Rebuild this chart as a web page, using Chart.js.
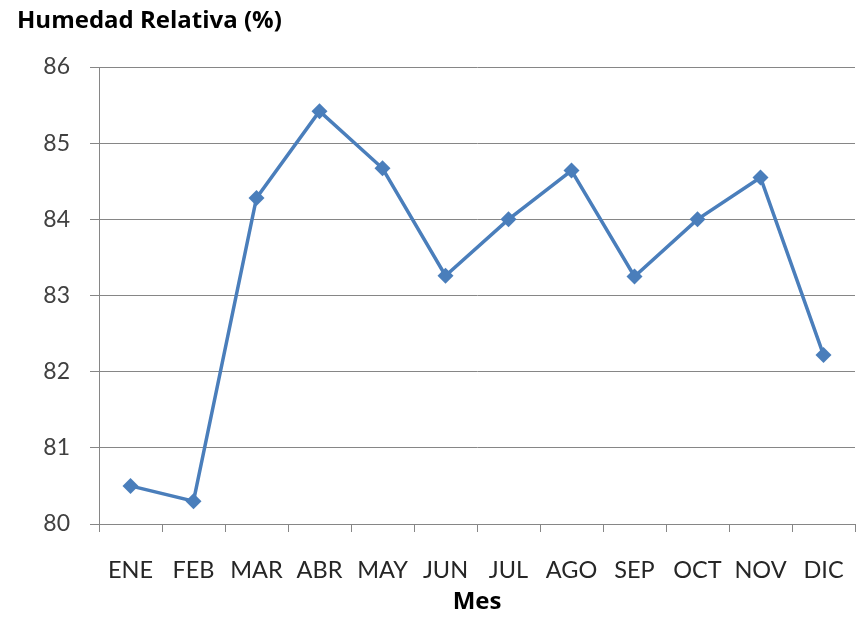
<!DOCTYPE html>
<html>
<head>
<meta charset="utf-8">
<script src="https://cdn.jsdelivr.net/npm/chart.js@4.4.1/dist/chart.umd.min.js"></script>
<style>
  html, body { margin: 0; padding: 0; background: #ffffff; }
  #wrap { width: 856px; height: 620px; }
</style>
</head>
<body>
<div id="wrap"><canvas id="humChart" width="856" height="620"></canvas></div>
<script>
// monthly relative humidity (%)
const months = ['ENE', 'FEB', 'MAR', 'ABR', 'MAY', 'JUN', 'JUL', 'AGO', 'SEP', 'OCT', 'NOV', 'DIC'];
const humidity = [80.5, 80.3, 84.28, 85.42, 84.67, 83.26, 84.0, 84.64, 83.25, 84.0, 84.55, 82.22];
const yTicks = [80, 81, 82, 83, 84, 85, 86];

const ctx = document.getElementById('humChart').getContext('2d');

window.humChartInstance = new Chart(ctx, {
    type: 'line',
    data: {
        labels: months,
        datasets: [{
            label: 'Humedad Relativa (%)',
            data: humidity,
            borderColor: '#4a7ebb',
            backgroundColor: '#4a7ebb',
            borderWidth: 3.5,
            tension: 0,
            pointStyle: 'rectRot',
            pointRadius: 8,
            pointBorderWidth: 0
        }]
    },
    options: {
        responsive: false,
        animation: false,
        layout: {
            autoPadding: false,
            padding: { left: 17, right: 1, top: 0, bottom: 3 }
        },
        plugins: {
            legend: { display: false },
            tooltip: { enabled: false },
            title: {
                display: true,
                text: 'Humedad Relativa (%)',
                align: 'start',
                color: '#000000',
                font: { family: 'Open Sans', size: 24, weight: 'bold' },
                padding: { top: 6.5, bottom: 31.7 }
            }
        },
        scales: {
            x: {
                offset: true,
                afterFit: function (scale) {
                    // keep the plot reaching the right edge like the original
                    scale.paddingLeft = 0;
                    scale.paddingRight = 0;
                    scale.height = 93;
                },
                grid: {
                    offset: true,
                    drawOnChartArea: false,
                    tickLength: 8,
                    color: '#868686'
                },
                border: { color: '#868686', width: 1 },
                ticks: {
                    color: '#262626',
                    font: { family: 'Lato', size: 23.5 },
                    padding: 24,
                    maxRotation: 0,
                    autoSkip: false
                },
                title: {
                    display: true,
                    text: 'Mes',
                    color: '#000000',
                    font: { family: 'Open Sans', size: 24, weight: 'bold' },
                    padding: { top: 0, bottom: 0 }
                }
            },
            y: {
                min: yTicks[0],
                max: yTicks[yTicks.length - 1],
                afterFit: function (scale) { scale.width = 82; },
                afterBuildTicks: function (scale) {
                    scale.ticks = yTicks.map(function (v) { return { value: v }; });
                },
                grid: {
                    color: '#868686',
                    tickLength: 9
                },
                border: { color: '#868686', width: 1 },
                ticks: {
                    color: '#404040',
                    font: { family: 'Lato', size: 23 },
                    padding: 20
                }
            }
        }
    }
});
</script>
</body>
</html>
